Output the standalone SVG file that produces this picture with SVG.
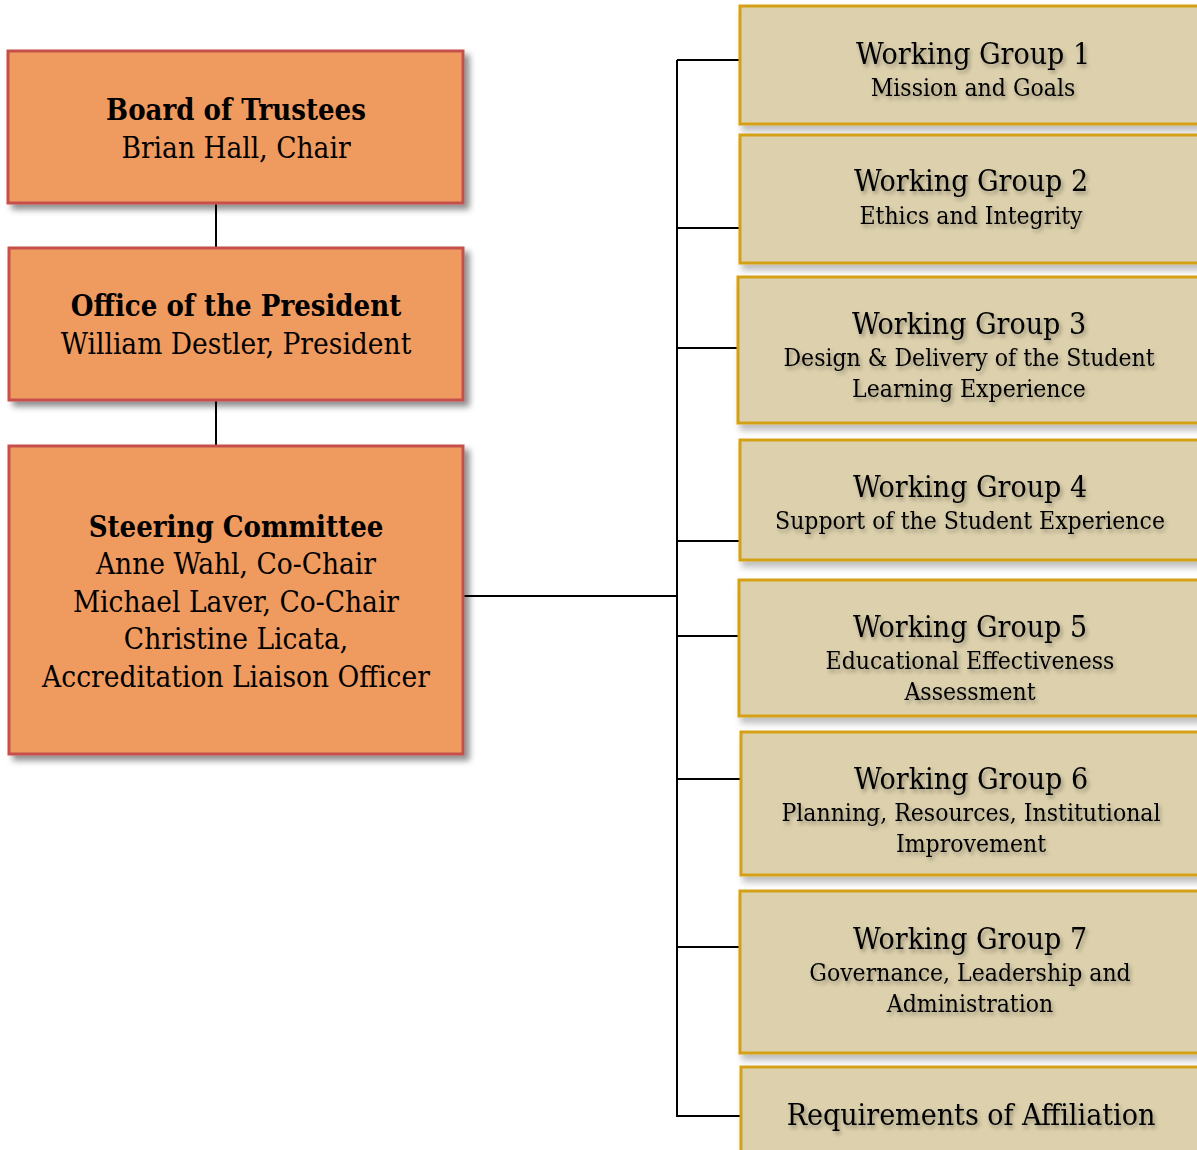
<svg xmlns="http://www.w3.org/2000/svg" width="1197" height="1150" viewBox="0 0 1197 1150">
<defs>
<filter id="boxShadow" x="-5%" y="-5%" width="115%" height="120%">
<feDropShadow dx="5" dy="5" stdDeviation="3" flood-color="#000" flood-opacity="0.45"/>
</filter>
<filter id="tanShadow" x="-5%" y="-5%" width="115%" height="125%">
<feDropShadow dx="3" dy="6" stdDeviation="3" flood-color="#000" flood-opacity="0.25"/>
</filter>
<filter id="textShadow" x="-10%" y="-30%" width="120%" height="170%">
<feDropShadow dx="2" dy="3" stdDeviation="2.2" flood-color="#000" flood-opacity="0.35"/>
</filter>
</defs>
<style>
.orange{fill:#EF9A5F;stroke:#C5504C;stroke-width:3;filter:url(#boxShadow)}
.tan{fill:#DDD1AD;stroke:#D4A017;stroke-width:3;filter:url(#tanShadow)}
text{font-family:"DejaVu Serif Condensed","DejaVu Serif","Liberation Serif",serif;fill:#000;text-anchor:middle}
.t{font-size:29.5px}
.tb{font-size:29px;font-weight:bold}
.wt{font-size:30px;filter:url(#textShadow)}
.ws{font-size:24.5px;filter:url(#textShadow)}
.wr{font-size:30px;filter:url(#textShadow)}
.conn{stroke:#000;stroke-width:2;fill:none}
</style>
<g id="connectors">
<line class="conn" x1="216" y1="204" x2="216" y2="248"/>
<line class="conn" x1="216" y1="400" x2="216" y2="446"/>
<line class="conn" x1="463" y1="596" x2="677" y2="596"/>
<line class="conn" x1="677" y1="60" x2="677" y2="1117"/>
<line class="conn" x1="677" y1="60" x2="743" y2="60"/>
<line class="conn" x1="677" y1="228" x2="740" y2="228"/>
<line class="conn" x1="677" y1="348" x2="738" y2="348"/>
<line class="conn" x1="677" y1="541" x2="740" y2="541"/>
<line class="conn" x1="677" y1="636" x2="739" y2="636"/>
<line class="conn" x1="677" y1="779" x2="741" y2="779"/>
<line class="conn" x1="677" y1="947" x2="740" y2="947"/>
<line class="conn" x1="677" y1="1116" x2="741" y2="1116"/>
</g>
<g id="board">
<rect class="orange" x="8" y="51" width="455" height="152"/>
<text class="tb" x="236" y="120">Board of Trustees</text>
<text class="t" x="236" y="158">Brian Hall, Chair</text>
</g>
<g id="president">
<rect class="orange" x="9" y="248" width="454" height="152"/>
<text class="tb" x="236" y="316">Office of the President</text>
<text class="t" x="236" y="354">William Destler, President</text>
</g>
<g id="steering">
<rect class="orange" x="9" y="446" width="454" height="308"/>
<text class="tb" x="236" y="537">Steering Committee</text>
<text class="t" x="236" y="574">Anne Wahl, Co-Chair</text>
<text class="t" x="236" y="612">Michael Laver, Co-Chair</text>
<text class="t" x="236" y="649">Christine Licata,</text>
<text class="t" x="236" y="687">Accreditation Liaison Officer</text>
</g>
<g id="wg1">
<rect class="tan" x="740" y="6" width="470" height="118"/>
<text class="wt" x="973" y="64">Working Group 1</text>
<text class="ws" x="973" y="96">Mission and Goals</text>
</g>
<g id="wg2">
<rect class="tan" x="740" y="135" width="470" height="128"/>
<text class="wt" x="971" y="191">Working Group 2</text>
<text class="ws" x="971" y="224">Ethics and Integrity</text>
</g>
<g id="wg3">
<rect class="tan" x="738" y="277" width="472" height="146"/>
<text class="wt" x="969" y="334">Working Group 3</text>
<text class="ws" x="969" y="366">Design &amp; Delivery of the Student</text>
<text class="ws" x="969" y="397">Learning Experience</text>
</g>
<g id="wg4">
<rect class="tan" x="740" y="440" width="470" height="120"/>
<text class="wt" x="970" y="497">Working Group 4</text>
<text class="ws" x="970" y="529">Support of the Student Experience</text>
</g>
<g id="wg5">
<rect class="tan" x="739" y="580" width="471" height="136"/>
<text class="wt" x="970" y="637">Working Group 5</text>
<text class="ws" x="970" y="669">Educational Effectiveness</text>
<text class="ws" x="970" y="700">Assessment</text>
</g>
<g id="wg6">
<rect class="tan" x="741" y="732" width="469" height="143"/>
<text class="wt" x="971" y="789">Working Group 6</text>
<text class="ws" x="971" y="821">Planning, Resources, Institutional</text>
<text class="ws" x="971" y="852">Improvement</text>
</g>
<g id="wg7">
<rect class="tan" x="740" y="891" width="470" height="162"/>
<text class="wt" x="970" y="949">Working Group 7</text>
<text class="ws" x="970" y="981">Governance, Leadership and</text>
<text class="ws" x="970" y="1012">Administration</text>
</g>
<g id="affiliation">
<rect class="tan" x="741" y="1067" width="469" height="100"/>
<text class="wr" x="971" y="1125">Requirements of Affiliation</text>
</g>
</svg>
